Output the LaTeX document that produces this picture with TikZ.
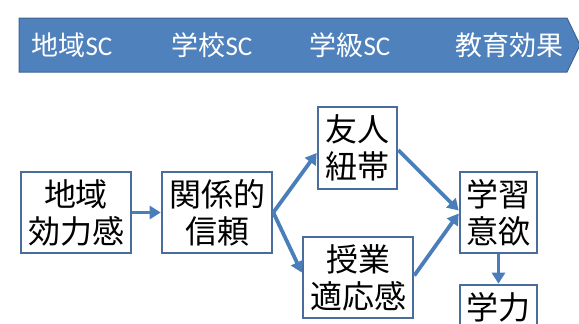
\documentclass[tikz,border=0pt]{standalone}
\usepackage{fontspec}
\setmainfont{Noto Sans CJK JP}
\newfontfamily\latinsc{Carlito}
\usetikzlibrary{arrows.meta}
\definecolor{bannerblue}{HTML}{4F81BD}
\definecolor{bannerline}{HTML}{3D6494}
\definecolor{boxline}{HTML}{4A6D9C}
\definecolor{arrowblue}{HTML}{4A7EBB}
\tikzset{
  bx/.style={draw=boxline, line width=2.6pt, fill=white, inner sep=0pt,
    align=center, font=\fontsize{32}{37}\selectfont, text=black},
  conn/.style={draw=arrowblue, line width=3.8pt,
    -{Triangle[length=11pt,width=13pt]}},
  bannertext/.style={text=white, font=\fontsize{27}{30}\selectfont, inner sep=0pt}
}
\begin{document}
\begin{tikzpicture}[x=1pt,y=-1pt]
\useasboundingbox (0,0) rectangle (579,324);
\clip (0,0) rectangle (579,324);
\fill[white] (0,0) rectangle (579,324);
% banner
\filldraw[fill=bannerblue, draw=bannerline, line width=1pt]
  (19,18) -- (567,18) -- (580,45) -- (567,72) -- (19,72) -- cycle;
\node[bannertext] (s1) at (72,45) {地域{\latinsc SC}};
\node[bannertext] (s2) at (212,45) {学校{\latinsc SC}};
\node[bannertext] (s3) at (350,45) {学級{\latinsc SC}};
\node[bannertext] (s4) at (509,45) {教育効果};
% boxes
\node[bx, minimum width=110pt, minimum height=81pt] (A) at (76,212.5) {地域\\効力感};
\node[bx, minimum width=110pt, minimum height=81pt] (B) at (217,212.5) {関係的\\信頼};
\node[bx, minimum width=79pt, minimum height=82pt] (C) at (357.5,148) {友人\\紐帯};
\node[bx, minimum width=110pt, minimum height=81pt] (D) at (358,277.5) {授業\\適応感};
\node[bx, minimum width=77pt, minimum height=81pt] (E) at (498.5,212.5) {学習\\意欲};
\node[bx, minimum width=77pt, minimum height=81pt] (F) at (498.5,325.5) {};
\node[font=\fontsize{32}{37}\selectfont, inner sep=0pt] (Ft) at (498.5,307) {学力};
% connectors
\draw[conn] (A.east) -- (B.west);
\draw[conn] (B.east) -- ([yshift=-5pt]C.west);
\draw[conn] (B.east) -- ([yshift=5pt]D.west);
\draw[conn] ([yshift=-2pt]C.east) -- ([yshift=2pt]E.west);
\draw[conn] ([yshift=2pt]D.east) -- ([yshift=-1pt]E.west);
\draw[conn] (E.south) -- (F.north);
\end{tikzpicture}
\end{document}
